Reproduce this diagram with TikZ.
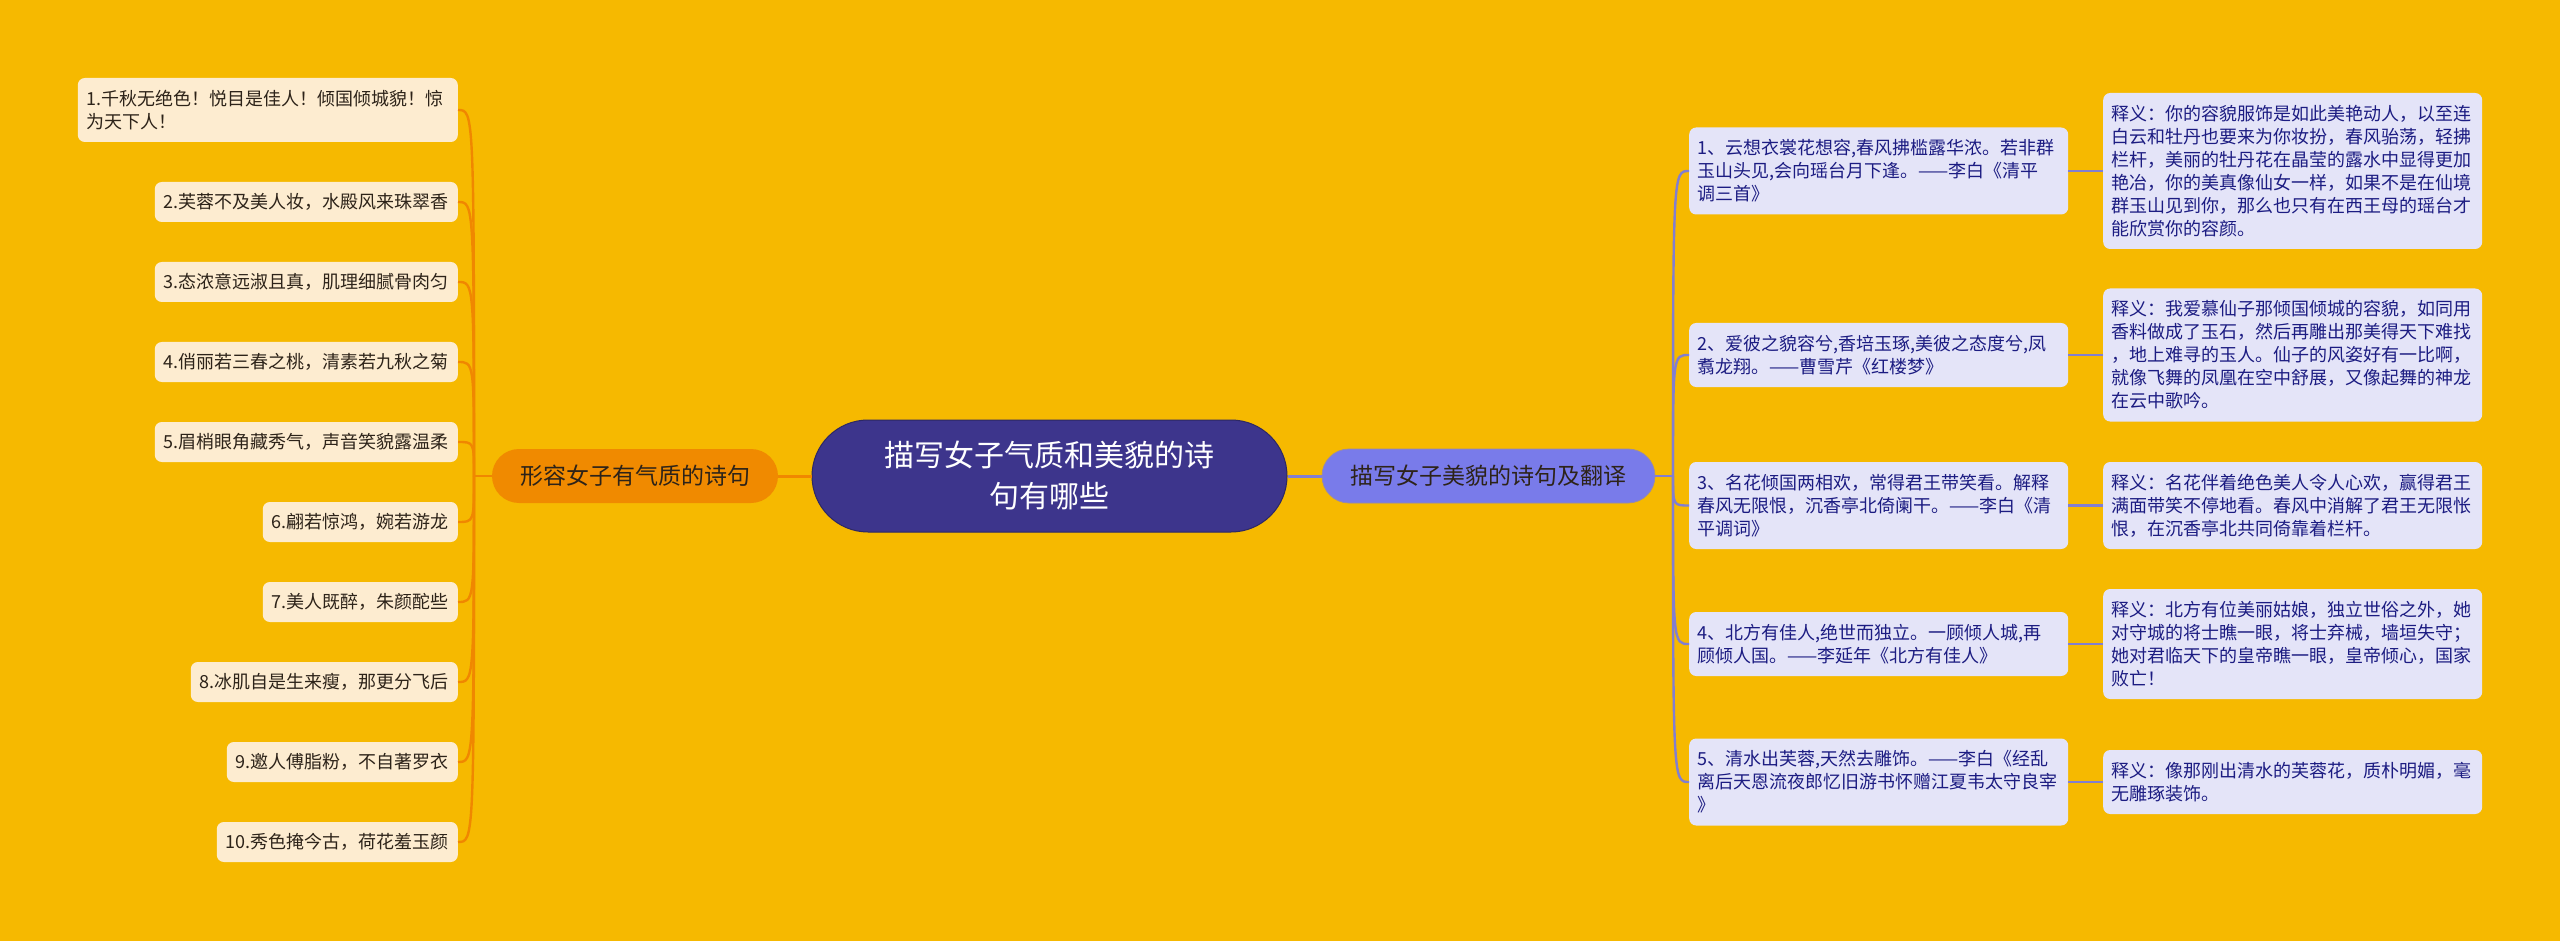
\documentclass[tikz,border=0pt]{standalone}
\usepackage{fontspec}
\setmainfont{Noto Sans CJK SC}
\definecolor{bgc}{RGB}{246,185,0}
\definecolor{cenc}{RGB}{61,53,140}
\definecolor{cenline}{RGB}{45,40,100}
\definecolor{lbc}{RGB}{240,138,0}
\definecolor{rbc}{RGB}{121,123,234}
\definecolor{leafc}{RGB}{253,236,208}
\definecolor{ltext}{RGB}{45,35,25}
\definecolor{pboxc}{RGB}{228,228,248}
\definecolor{ptext}{RGB}{28,28,130}
\definecolor{lcol}{RGB}{240,135,0}
\definecolor{rcol}{RGB}{130,126,208}
\newcommand\mystrut{\rule[-4.7pt]{0pt}{23pt}}
\newcommand\bigstrut{\rule[-9.1pt]{0pt}{41pt}}
\begin{document}
\begin{tikzpicture}[x=1pt,y=-1pt,
  leafbox/.style={fill=leafc, rounded corners=7pt, inner xsep=9pt, inner ysep=0pt,
    minimum height=40pt, font=\fontsize{18}{23}\selectfont, text=ltext, align=left, anchor=east},
  poembox/.style={fill=pboxc, rounded corners=7pt, inner xsep=8pt, inner ysep=9pt,
    text width=363pt, font=\fontsize{18}{23}\selectfont, text=ptext, align=left, anchor=west},
  expbox/.style={fill=pboxc, rounded corners=7pt, inner xsep=8.5pt, inner ysep=9pt,
    text width=362pt, font=\fontsize{18}{23}\selectfont, text=ptext, align=left, anchor=west},
  lcon/.style={draw=lcol, line width=2.4pt},
  rcon/.style={draw=rcol, line width=2.4pt}
]
\fill[bgc] (0,0) rectangle (2560,941);
\useasboundingbox (0,0) rectangle (2560,941);

% central
\node[fill=cenc, draw=cenline, line width=1pt, rounded corners=56pt,
  minimum width=475pt, minimum height=112pt, inner sep=0pt, text=white,
  align=center, font=\fontsize{30}{41}\selectfont] (c) at (1049.5,476)
  {\bigstrut 描写女子气质和美貌的诗\\\bigstrut 句有哪些};

% branches
\node[fill=lbc, rounded corners=27pt, minimum width=286pt, minimum height=54pt,
  inner sep=0pt, text=ltext, font=\fontsize{23}{28}\selectfont] (lb) at (635,476)
  {形容女子有气质的诗句};
\node[fill=rbc, draw=rcol!80!bgc, line width=0.8pt, rounded corners=27pt, minimum width=333pt, minimum height=54pt,
  inner sep=0pt, text=ltext, font=\fontsize{23}{28}\selectfont] (rb) at (1488.5,476)
  {描写女子美貌的诗句及翻译};

% left leaves
\node[leafbox, text width=362pt, minimum height=64pt] (l1) at (458,110)
  {\mystrut 1.千秋无绝色！悦目是佳人！倾国倾城貌！惊\\\mystrut 为天下人！};
\node[leafbox] (l2) at (458,202) {\mystrut 2.芙蓉不及美人妆，水殿风来珠翠香};
\node[leafbox] (l3) at (458,282) {\mystrut 3.态浓意远淑且真，肌理细腻骨肉匀};
\node[leafbox] (l4) at (458,362) {\mystrut 4.俏丽若三春之桃，清素若九秋之菊};
\node[leafbox] (l5) at (458,442) {\mystrut 5.眉梢眼角藏秀气，声音笑貌露温柔};
\node[leafbox] (l6) at (458,522) {\mystrut 6.翩若惊鸿，婉若游龙};
\node[leafbox] (l7) at (458,602) {\mystrut 7.美人既醉，朱颜酡些};
\node[leafbox] (l8) at (458,682) {\mystrut 8.冰肌自是生来瘦，那更分飞后};
\node[leafbox] (l9) at (458,762) {\mystrut 9.邀人傅脂粉，不自著罗衣};
\node[leafbox] (l10) at (458,842) {\mystrut 10.秀色掩今古，荷花羞玉颜};

% right poems
\node[poembox] (p1) at (1689,171)
  {\mystrut 1、云想衣裳花想容,春风拂槛露华浓。若非群\\\mystrut 玉山头见,会向瑶台月下逢。——李白《清平\\\mystrut 调三首》};
\node[poembox] (p2) at (1689,355)
  {\mystrut 2、爱彼之貌容兮,香培玉琢,美彼之态度兮,凤\\\mystrut 翥龙翔。——曹雪芹《红楼梦》};
\node[poembox] (p3) at (1689,505.5)
  {\mystrut 3、名花倾国两相欢，常得君王带笑看。解释\\\mystrut 春风无限恨，沉香亭北倚阑干。——李白《清\\\mystrut 平调词》};
\node[poembox] (p4) at (1689,644)
  {\mystrut 4、北方有佳人,绝世而独立。一顾倾人城,再\\\mystrut 顾倾人国。——李延年《北方有佳人》};
\node[poembox] (p5) at (1689,782)
  {\mystrut 5、清水出芙蓉,天然去雕饰。——李白《经乱\\\mystrut 离后天恩流夜郎忆旧游书怀赠江夏韦太守良宰\\\mystrut 》};

% explanations
\node[expbox] (e1) at (2103,171)
  {\mystrut 释义：你的容貌服饰是如此美艳动人，以至连\\\mystrut 白云和牡丹也要来为你妆扮，春风骀荡，轻拂\\\mystrut 栏杆，美丽的牡丹花在晶莹的露水中显得更加\\\mystrut 艳冶，你的美真像仙女一样，如果不是在仙境\\\mystrut 群玉山见到你，那么也只有在西王母的瑶台才\\\mystrut 能欣赏你的容颜。};
\node[expbox] (e2) at (2103,355)
  {\mystrut 释义：我爱慕仙子那倾国倾城的容貌，如同用\\\mystrut 香料做成了玉石，然后再雕出那美得天下难找\\\mystrut ，地上难寻的玉人。仙子的风姿好有一比啊，\\\mystrut 就像飞舞的凤凰在空中舒展，又像起舞的神龙\\\mystrut 在云中歌吟。};
\node[expbox] (e3) at (2103,505.5)
  {\mystrut 释义：名花伴着绝色美人令人心欢，赢得君王\\\mystrut 满面带笑不停地看。春风中消解了君王无限怅\\\mystrut 恨，在沉香亭北共同倚靠着栏杆。};
\node[expbox] (e4) at (2103,644)
  {\mystrut 释义：北方有位美丽姑娘，独立世俗之外，她\\\mystrut 对守城的将士瞧一眼，将士弃械，墙垣失守；\\\mystrut 她对君临天下的皇帝瞧一眼，皇帝倾心，国家\\\mystrut 败亡！};
\node[expbox] (e5) at (2103,782)
  {\mystrut 释义：像那刚出清水的芙蓉花，质朴明媚，毫\\\mystrut 无雕琢装饰。};

% connectors
\draw[lcon, line width=3pt] (c.west) -- (lb.east);
\draw[rcon, line width=3pt] (c.east) -- (rb.west);

\coordinate (tl) at (474,476);
\draw[lcon] (lb.west) -- (tl);
\foreach \n in {l1,l2,l3,l4,l5,l6,l7,l8,l9,l10}
  \draw[lcon] (tl) .. controls (tl |- \n.east) .. (\n.east);

\coordinate (tr) at (1673,476);
\draw[rcon] (rb.east) -- (tr);
\foreach \n in {p1,p2,p3,p4,p5}
  \draw[rcon] (tr) .. controls (tr |- \n.west) .. (\n.west);

\draw[rcon] (p1.east) -- (e1.west);
\draw[rcon] (p2.east) -- (e2.west);
\draw[rcon] (p3.east) -- (e3.west);
\draw[rcon] (p4.east) -- (e4.west);
\draw[rcon] (p5.east) -- (e5.west);
\end{tikzpicture}
\end{document}
